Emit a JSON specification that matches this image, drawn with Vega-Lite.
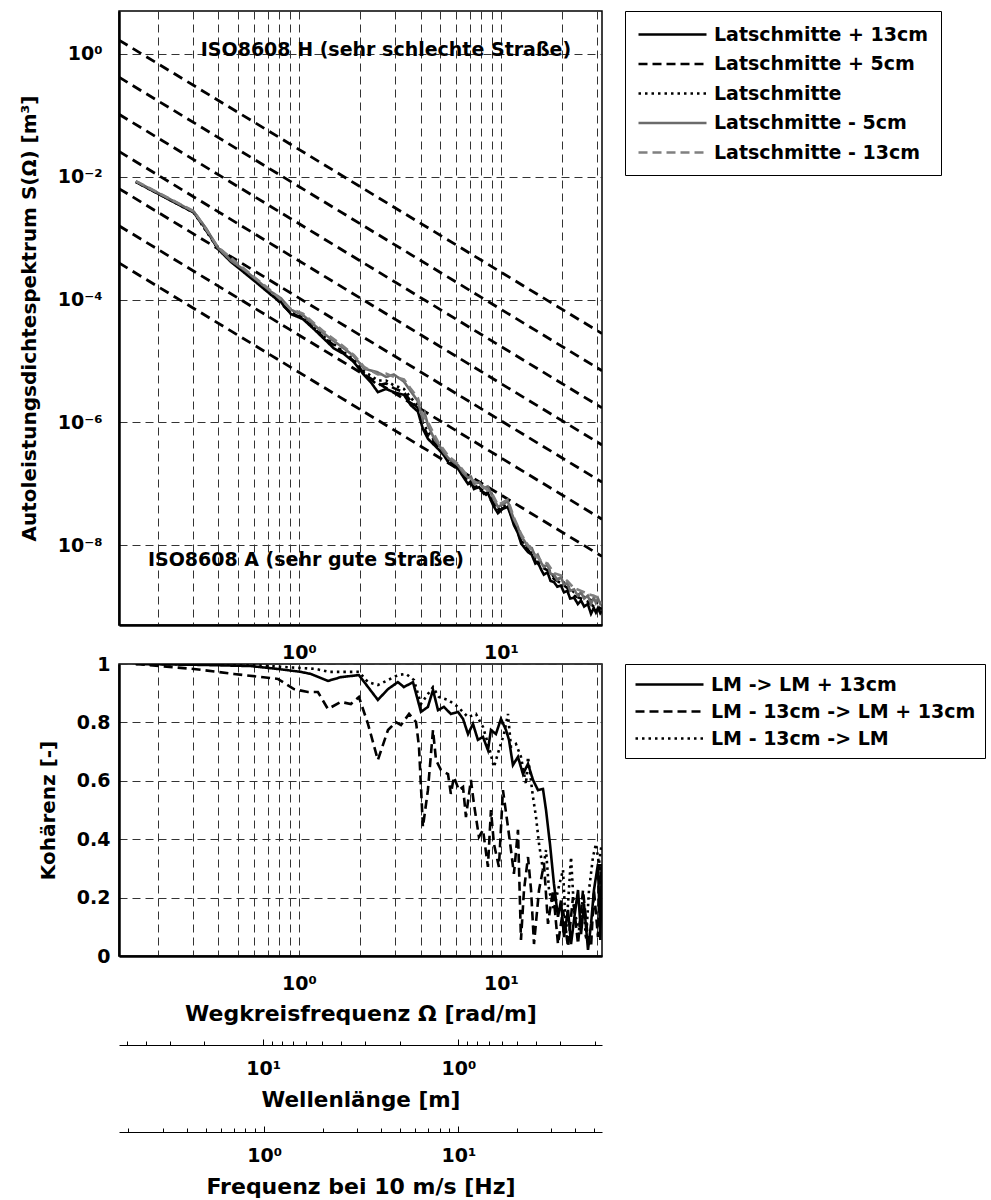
{
  "$schema": "https://vega.github.io/schema/vega-lite/v6.json",
  "background": "white",
  "padding": {"left": 18, "top": 9, "right": 5, "bottom": 5},
  "bounds": "flush",
  "spacing": 39,
  "config": {
    "font": "DejaVu Sans",
    "view": {"stroke": "black", "strokeWidth": 1.5},
    "axis": {
      "labelFont": "DejaVu Sans", "labelFontSize": 19, "labelFontWeight": "bold", "labelColor": "black",
      "titleFont": "DejaVu Sans", "titleFontSize": 20, "titleFontWeight": "bold", "titleColor": "black",
      "domainColor": "black", "domainWidth": 2.5, "ticks": false,
      "gridColor": "#333333", "gridDash": [8, 5], "gridWidth": 1, "gridOpacity": 1,
      "labelOverlap": false, "labelFlush": false, "labelBound": false
    }
  },
  "resolve": {
    "scale": {"color": "independent", "strokeDash": "independent"},
    "legend": {"color": "independent", "strokeDash": "independent"}
  },
  "vconcat": [
    {
      "width": 483,
      "height": 614,
      "layer": [
        {
          "data": {"values": [
            {"cls": "A/B", "omega": 0.1288, "S": 3.94e-4}, {"cls": "A/B", "omega": 31.62, "S": 6.55e-9},
            {"cls": "B/C", "omega": 0.1288, "S": 1.59e-3}, {"cls": "B/C", "omega": 31.62, "S": 2.64e-8},
            {"cls": "C/D", "omega": 0.1288, "S": 6.40e-3}, {"cls": "C/D", "omega": 31.62, "S": 1.06e-7},
            {"cls": "D/E", "omega": 0.1288, "S": 2.58e-2}, {"cls": "D/E", "omega": 31.62, "S": 4.28e-7},
            {"cls": "E/F", "omega": 0.1288, "S": 0.104}, {"cls": "E/F", "omega": 31.62, "S": 1.72e-6},
            {"cls": "F/G", "omega": 0.1288, "S": 0.418}, {"cls": "F/G", "omega": 31.62, "S": 6.93e-6},
            {"cls": "G/H", "omega": 0.1288, "S": 1.68}, {"cls": "G/H", "omega": 31.62, "S": 2.79e-5}
          ]},
          "mark": {"type": "line", "color": "black", "strokeWidth": 2.8, "strokeDash": [10, 6], "clip": true},
          "encoding": {
            "x": {"field": "omega", "type": "quantitative",
                  "scale": {"type": "log", "domain": [0.1288, 31.62], "nice": false},
                  "axis": {"title": null, "grid": true, "labelPadding": 18,
                           "values": [0.2, 0.3, 0.4, 0.5, 0.6, 0.7, 0.8, 0.9, 1, 2, 3, 4, 5, 6, 7, 8, 9, 10, 20, 30],
                           "labelExpr": "datum.value == 1 ? '10⁰' : (datum.value == 10 ? '10¹' : '')"}},
            "y": {"field": "S", "type": "quantitative",
                  "scale": {"type": "log", "domain": [5.0e-10, 5.0], "nice": false},
                  "axis": {"title": "Autoleistungsdichtespektrum S(Ω) [m³]", "grid": true, "labelPadding": 17, "titlePadding": 18,
                           "values": [1e-8, 1e-6, 1e-4, 1e-2, 1],
                           "labelExpr": "datum.value > 0.5 ? '10⁰' : (datum.value > 5e-3 ? '10⁻²' : (datum.value > 5e-5 ? '10⁻⁴' : (datum.value > 5e-7 ? '10⁻⁶' : '10⁻⁸')))"}},
            "detail": {"field": "cls", "type": "nominal"}
          }
        },
        {
          "data": {"values": [
            {"series": "Latschmitte + 13cm", "omega": 0.156, "S": 8.2e-3},
            {"series": "Latschmitte + 13cm", "omega": 0.302, "S": 2.6e-3},
            {"series": "Latschmitte + 13cm", "omega": 0.347, "S": 1.4e-3},
            {"series": "Latschmitte + 13cm", "omega": 0.397, "S": 6.7e-4},
            {"series": "Latschmitte + 13cm", "omega": 0.461, "S": 4.1e-4},
            {"series": "Latschmitte + 13cm", "omega": 0.547, "S": 2.6e-4},
            {"series": "Latschmitte + 13cm", "omega": 0.627, "S": 1.8e-4},
            {"series": "Latschmitte + 13cm", "omega": 0.726, "S": 1.2e-4},
            {"series": "Latschmitte + 13cm", "omega": 0.815, "S": 9.1e-5},
            {"series": "Latschmitte + 13cm", "omega": 0.913, "S": 5.8e-5},
            {"series": "Latschmitte + 13cm", "omega": 1.047, "S": 4.8e-5},
            {"series": "Latschmitte + 13cm", "omega": 1.186, "S": 3.3e-5},
            {"series": "Latschmitte + 13cm", "omega": 1.33, "S": 2.3e-5},
            {"series": "Latschmitte + 13cm", "omega": 1.49, "S": 1.6e-5},
            {"series": "Latschmitte + 13cm", "omega": 1.67, "S": 1.3e-5},
            {"series": "Latschmitte + 13cm", "omega": 1.87, "S": 9.6e-6},
            {"series": "Latschmitte + 13cm", "omega": 2.10, "S": 5.9e-6},
            {"series": "Latschmitte + 13cm", "omega": 2.27, "S": 4.5e-6},
            {"series": "Latschmitte + 13cm", "omega": 2.46, "S": 3.1e-6},
            {"series": "Latschmitte + 13cm", "omega": 2.70, "S": 3.5e-6},
            {"series": "Latschmitte + 13cm", "omega": 2.95, "S": 3.1e-6},
            {"series": "Latschmitte + 13cm", "omega": 3.31, "S": 2.8e-6},
            {"series": "Latschmitte + 13cm", "omega": 3.58, "S": 1.9e-6},
            {"series": "Latschmitte + 13cm", "omega": 3.88, "S": 1.5e-6},
            {"series": "Latschmitte + 13cm", "omega": 4.11, "S": 7.8e-7},
            {"series": "Latschmitte + 13cm", "omega": 4.35, "S": 5.4e-7},
            {"series": "Latschmitte + 13cm", "omega": 4.66, "S": 4.3e-7},
            {"series": "Latschmitte + 13cm", "omega": 4.88, "S": 3.7e-7},
            {"series": "Latschmitte + 13cm", "omega": 5.22, "S": 2.9e-7},
            {"series": "Latschmitte + 13cm", "omega": 5.5, "S": 2.2e-7},
            {"series": "Latschmitte + 13cm", "omega": 5.78, "S": 2.0e-7},
            {"series": "Latschmitte + 13cm", "omega": 6.13, "S": 1.75e-7},
            {"series": "Latschmitte + 13cm", "omega": 6.5, "S": 1.3e-7},
            {"series": "Latschmitte + 13cm", "omega": 6.87, "S": 9.9e-8},
            {"series": "Latschmitte + 13cm", "omega": 7.1, "S": 1.1e-7},
            {"series": "Latschmitte + 13cm", "omega": 7.35, "S": 8.2e-8},
            {"series": "Latschmitte + 13cm", "omega": 7.8, "S": 8.8e-8},
            {"series": "Latschmitte + 13cm", "omega": 8.24, "S": 6.8e-8},
            {"series": "Latschmitte + 13cm", "omega": 8.6, "S": 7.2e-8},
            {"series": "Latschmitte + 13cm", "omega": 9.13, "S": 4.5e-8},
            {"series": "Latschmitte + 13cm", "omega": 9.66, "S": 3.3e-8},
            {"series": "Latschmitte + 13cm", "omega": 10.2, "S": 3.9e-8},
            {"series": "Latschmitte + 13cm", "omega": 10.8, "S": 4.2e-8},
            {"series": "Latschmitte + 13cm", "omega": 11.2, "S": 3.0e-8},
            {"series": "Latschmitte + 13cm", "omega": 11.6, "S": 2.1e-8},
            {"series": "Latschmitte + 13cm", "omega": 12.1, "S": 1.6e-8},
            {"series": "Latschmitte + 13cm", "omega": 12.6, "S": 1.05e-8},
            {"series": "Latschmitte + 13cm", "omega": 13.1, "S": 9.0e-9},
            {"series": "Latschmitte + 13cm", "omega": 13.6, "S": 7.7e-9},
            {"series": "Latschmitte + 13cm", "omega": 14.2, "S": 7.0e-9},
            {"series": "Latschmitte + 13cm", "omega": 14.8, "S": 5.0e-9},
            {"series": "Latschmitte + 13cm", "omega": 15.2, "S": 5.3e-9},
            {"series": "Latschmitte + 13cm", "omega": 15.8, "S": 4.0e-9},
            {"series": "Latschmitte + 13cm", "omega": 16.3, "S": 3.3e-9},
            {"series": "Latschmitte + 13cm", "omega": 17.0, "S": 3.6e-9},
            {"series": "Latschmitte + 13cm", "omega": 17.6, "S": 2.6e-9},
            {"series": "Latschmitte + 13cm", "omega": 18.3, "S": 2.5e-9},
            {"series": "Latschmitte + 13cm", "omega": 19.0, "S": 2.1e-9},
            {"series": "Latschmitte + 13cm", "omega": 19.8, "S": 2.2e-9},
            {"series": "Latschmitte + 13cm", "omega": 20.5, "S": 1.7e-9},
            {"series": "Latschmitte + 13cm", "omega": 21.3, "S": 1.8e-9},
            {"series": "Latschmitte + 13cm", "omega": 22.0, "S": 1.35e-9},
            {"series": "Latschmitte + 13cm", "omega": 23.0, "S": 1.4e-9},
            {"series": "Latschmitte + 13cm", "omega": 24.0, "S": 1.1e-9},
            {"series": "Latschmitte + 13cm", "omega": 24.9, "S": 1.25e-9},
            {"series": "Latschmitte + 13cm", "omega": 25.8, "S": 1.0e-9},
            {"series": "Latschmitte + 13cm", "omega": 26.9, "S": 1.1e-9},
            {"series": "Latschmitte + 13cm", "omega": 27.9, "S": 7.6e-10},
            {"series": "Latschmitte + 13cm", "omega": 28.8, "S": 9.5e-10},
            {"series": "Latschmitte + 13cm", "omega": 29.5, "S": 8.0e-10},
            {"series": "Latschmitte + 13cm", "omega": 30.2, "S": 9.5e-10},
            {"series": "Latschmitte + 13cm", "omega": 31.0, "S": 7.8e-10},
            {"series": "Latschmitte + 13cm", "omega": 31.6, "S": 8.5e-10},

            {"series": "Latschmitte + 5cm", "omega": 0.156, "S": 8.3e-3},
            {"series": "Latschmitte + 5cm", "omega": 0.302, "S": 2.65e-3},
            {"series": "Latschmitte + 5cm", "omega": 0.397, "S": 6.9e-4},
            {"series": "Latschmitte + 5cm", "omega": 0.547, "S": 2.7e-4},
            {"series": "Latschmitte + 5cm", "omega": 0.726, "S": 1.25e-4},
            {"series": "Latschmitte + 5cm", "omega": 0.913, "S": 6.0e-5},
            {"series": "Latschmitte + 5cm", "omega": 1.047, "S": 5.0e-5},
            {"series": "Latschmitte + 5cm", "omega": 1.33, "S": 2.4e-5},
            {"series": "Latschmitte + 5cm", "omega": 1.67, "S": 1.35e-5},
            {"series": "Latschmitte + 5cm", "omega": 1.87, "S": 1.0e-5},
            {"series": "Latschmitte + 5cm", "omega": 2.10, "S": 6.3e-6},
            {"series": "Latschmitte + 5cm", "omega": 2.46, "S": 4.0e-6},
            {"series": "Latschmitte + 5cm", "omega": 2.70, "S": 4.3e-6},
            {"series": "Latschmitte + 5cm", "omega": 2.95, "S": 3.6e-6},
            {"series": "Latschmitte + 5cm", "omega": 3.31, "S": 3.1e-6},
            {"series": "Latschmitte + 5cm", "omega": 3.58, "S": 2.2e-6},
            {"series": "Latschmitte + 5cm", "omega": 3.88, "S": 1.7e-6},
            {"series": "Latschmitte + 5cm", "omega": 4.11, "S": 9.0e-7},
            {"series": "Latschmitte + 5cm", "omega": 4.35, "S": 6.0e-7},
            {"series": "Latschmitte + 5cm", "omega": 4.88, "S": 4.0e-7},
            {"series": "Latschmitte + 5cm", "omega": 5.5, "S": 2.4e-7},
            {"series": "Latschmitte + 5cm", "omega": 6.13, "S": 1.85e-7},
            {"series": "Latschmitte + 5cm", "omega": 6.87, "S": 1.05e-7},
            {"series": "Latschmitte + 5cm", "omega": 7.35, "S": 9.0e-8},
            {"series": "Latschmitte + 5cm", "omega": 8.24, "S": 7.2e-8},
            {"series": "Latschmitte + 5cm", "omega": 9.13, "S": 5.0e-8},
            {"series": "Latschmitte + 5cm", "omega": 9.66, "S": 3.6e-8},
            {"series": "Latschmitte + 5cm", "omega": 10.8, "S": 4.4e-8},
            {"series": "Latschmitte + 5cm", "omega": 11.6, "S": 2.3e-8},
            {"series": "Latschmitte + 5cm", "omega": 12.6, "S": 1.15e-8},
            {"series": "Latschmitte + 5cm", "omega": 13.6, "S": 8.5e-9},
            {"series": "Latschmitte + 5cm", "omega": 14.8, "S": 5.5e-9},
            {"series": "Latschmitte + 5cm", "omega": 15.8, "S": 4.4e-9},
            {"series": "Latschmitte + 5cm", "omega": 17.0, "S": 3.9e-9},
            {"series": "Latschmitte + 5cm", "omega": 18.3, "S": 2.8e-9},
            {"series": "Latschmitte + 5cm", "omega": 19.8, "S": 2.4e-9},
            {"series": "Latschmitte + 5cm", "omega": 21.3, "S": 2.0e-9},
            {"series": "Latschmitte + 5cm", "omega": 23.0, "S": 1.5e-9},
            {"series": "Latschmitte + 5cm", "omega": 24.9, "S": 1.35e-9},
            {"series": "Latschmitte + 5cm", "omega": 26.9, "S": 1.2e-9},
            {"series": "Latschmitte + 5cm", "omega": 28.8, "S": 1.0e-9},
            {"series": "Latschmitte + 5cm", "omega": 30.2, "S": 1.0e-9},
            {"series": "Latschmitte + 5cm", "omega": 31.6, "S": 9.0e-10},

            {"series": "Latschmitte", "omega": 0.156, "S": 8.3e-3},
            {"series": "Latschmitte", "omega": 0.302, "S": 2.6e-3},
            {"series": "Latschmitte", "omega": 0.397, "S": 6.8e-4},
            {"series": "Latschmitte", "omega": 0.547, "S": 2.7e-4},
            {"series": "Latschmitte", "omega": 0.726, "S": 1.28e-4},
            {"series": "Latschmitte", "omega": 0.913, "S": 6.2e-5},
            {"series": "Latschmitte", "omega": 1.047, "S": 5.1e-5},
            {"series": "Latschmitte", "omega": 1.33, "S": 2.5e-5},
            {"series": "Latschmitte", "omega": 1.67, "S": 1.4e-5},
            {"series": "Latschmitte", "omega": 1.87, "S": 1.05e-5},
            {"series": "Latschmitte", "omega": 2.10, "S": 6.8e-6},
            {"series": "Latschmitte", "omega": 2.46, "S": 4.8e-6},
            {"series": "Latschmitte", "omega": 2.70, "S": 4.8e-6},
            {"series": "Latschmitte", "omega": 2.95, "S": 4.0e-6},
            {"series": "Latschmitte", "omega": 3.31, "S": 3.5e-6},
            {"series": "Latschmitte", "omega": 3.58, "S": 2.5e-6},
            {"series": "Latschmitte", "omega": 3.88, "S": 1.9e-6},
            {"series": "Latschmitte", "omega": 4.11, "S": 1.0e-6},
            {"series": "Latschmitte", "omega": 4.35, "S": 7.0e-7},
            {"series": "Latschmitte", "omega": 4.88, "S": 4.2e-7},
            {"series": "Latschmitte", "omega": 5.5, "S": 2.5e-7},
            {"series": "Latschmitte", "omega": 6.13, "S": 1.9e-7},
            {"series": "Latschmitte", "omega": 6.87, "S": 1.1e-7},
            {"series": "Latschmitte", "omega": 7.35, "S": 9.5e-8},
            {"series": "Latschmitte", "omega": 8.24, "S": 7.6e-8},
            {"series": "Latschmitte", "omega": 9.13, "S": 5.4e-8},
            {"series": "Latschmitte", "omega": 9.66, "S": 3.9e-8},
            {"series": "Latschmitte", "omega": 10.8, "S": 4.7e-8},
            {"series": "Latschmitte", "omega": 11.6, "S": 2.4e-8},
            {"series": "Latschmitte", "omega": 12.6, "S": 1.2e-8},
            {"series": "Latschmitte", "omega": 13.6, "S": 9.0e-9},
            {"series": "Latschmitte", "omega": 14.8, "S": 6.0e-9},
            {"series": "Latschmitte", "omega": 15.8, "S": 4.8e-9},
            {"series": "Latschmitte", "omega": 17.0, "S": 4.3e-9},
            {"series": "Latschmitte", "omega": 18.3, "S": 3.0e-9},
            {"series": "Latschmitte", "omega": 19.8, "S": 2.7e-9},
            {"series": "Latschmitte", "omega": 21.3, "S": 2.2e-9},
            {"series": "Latschmitte", "omega": 23.0, "S": 1.7e-9},
            {"series": "Latschmitte", "omega": 24.9, "S": 1.5e-9},
            {"series": "Latschmitte", "omega": 26.9, "S": 1.35e-9},
            {"series": "Latschmitte", "omega": 28.8, "S": 1.2e-9},
            {"series": "Latschmitte", "omega": 30.2, "S": 1.15e-9},
            {"series": "Latschmitte", "omega": 31.6, "S": 1.1e-9},

            {"series": "Latschmitte - 5cm", "omega": 0.156, "S": 8.4e-3},
            {"series": "Latschmitte - 5cm", "omega": 0.302, "S": 2.7e-3},
            {"series": "Latschmitte - 5cm", "omega": 0.347, "S": 1.45e-3},
            {"series": "Latschmitte - 5cm", "omega": 0.397, "S": 7.0e-4},
            {"series": "Latschmitte - 5cm", "omega": 0.461, "S": 4.3e-4},
            {"series": "Latschmitte - 5cm", "omega": 0.547, "S": 2.9e-4},
            {"series": "Latschmitte - 5cm", "omega": 0.627, "S": 2.0e-4},
            {"series": "Latschmitte - 5cm", "omega": 0.726, "S": 1.35e-4},
            {"series": "Latschmitte - 5cm", "omega": 0.815, "S": 1.05e-4},
            {"series": "Latschmitte - 5cm", "omega": 0.913, "S": 6.8e-5},
            {"series": "Latschmitte - 5cm", "omega": 1.047, "S": 5.6e-5},
            {"series": "Latschmitte - 5cm", "omega": 1.186, "S": 3.9e-5},
            {"series": "Latschmitte - 5cm", "omega": 1.33, "S": 2.8e-5},
            {"series": "Latschmitte - 5cm", "omega": 1.49, "S": 2.1e-5},
            {"series": "Latschmitte - 5cm", "omega": 1.67, "S": 1.6e-5},
            {"series": "Latschmitte - 5cm", "omega": 1.87, "S": 1.2e-5},
            {"series": "Latschmitte - 5cm", "omega": 2.10, "S": 7.5e-6},
            {"series": "Latschmitte - 5cm", "omega": 2.27, "S": 7.0e-6},
            {"series": "Latschmitte - 5cm", "omega": 2.46, "S": 6.5e-6},
            {"series": "Latschmitte - 5cm", "omega": 2.70, "S": 5.5e-6},
            {"series": "Latschmitte - 5cm", "omega": 2.95, "S": 6.0e-6},
            {"series": "Latschmitte - 5cm", "omega": 3.2, "S": 5.0e-6},
            {"series": "Latschmitte - 5cm", "omega": 3.31, "S": 4.6e-6},
            {"series": "Latschmitte - 5cm", "omega": 3.58, "S": 3.2e-6},
            {"series": "Latschmitte - 5cm", "omega": 3.88, "S": 2.2e-6},
            {"series": "Latschmitte - 5cm", "omega": 4.11, "S": 1.1e-6},
            {"series": "Latschmitte - 5cm", "omega": 4.2, "S": 1.4e-6},
            {"series": "Latschmitte - 5cm", "omega": 4.35, "S": 9.0e-7},
            {"series": "Latschmitte - 5cm", "omega": 4.66, "S": 5.5e-7},
            {"series": "Latschmitte - 5cm", "omega": 4.88, "S": 4.5e-7},
            {"series": "Latschmitte - 5cm", "omega": 5.22, "S": 3.2e-7},
            {"series": "Latschmitte - 5cm", "omega": 5.5, "S": 2.6e-7},
            {"series": "Latschmitte - 5cm", "omega": 5.78, "S": 2.3e-7},
            {"series": "Latschmitte - 5cm", "omega": 6.13, "S": 2.0e-7},
            {"series": "Latschmitte - 5cm", "omega": 6.5, "S": 1.5e-7},
            {"series": "Latschmitte - 5cm", "omega": 6.87, "S": 1.25e-7},
            {"series": "Latschmitte - 5cm", "omega": 7.1, "S": 1.3e-7},
            {"series": "Latschmitte - 5cm", "omega": 7.35, "S": 1.0e-7},
            {"series": "Latschmitte - 5cm", "omega": 7.8, "S": 1.05e-7},
            {"series": "Latschmitte - 5cm", "omega": 8.24, "S": 8.5e-8},
            {"series": "Latschmitte - 5cm", "omega": 8.6, "S": 9.0e-8},
            {"series": "Latschmitte - 5cm", "omega": 9.13, "S": 6.0e-8},
            {"series": "Latschmitte - 5cm", "omega": 9.66, "S": 4.2e-8},
            {"series": "Latschmitte - 5cm", "omega": 10.2, "S": 4.6e-8},
            {"series": "Latschmitte - 5cm", "omega": 10.8, "S": 5.2e-8},
            {"series": "Latschmitte - 5cm", "omega": 11.2, "S": 3.6e-8},
            {"series": "Latschmitte - 5cm", "omega": 11.6, "S": 2.6e-8},
            {"series": "Latschmitte - 5cm", "omega": 12.1, "S": 2.0e-8},
            {"series": "Latschmitte - 5cm", "omega": 12.6, "S": 1.4e-8},
            {"series": "Latschmitte - 5cm", "omega": 13.1, "S": 1.15e-8},
            {"series": "Latschmitte - 5cm", "omega": 13.6, "S": 9.5e-9},
            {"series": "Latschmitte - 5cm", "omega": 14.2, "S": 9.0e-9},
            {"series": "Latschmitte - 5cm", "omega": 14.8, "S": 6.5e-9},
            {"series": "Latschmitte - 5cm", "omega": 15.2, "S": 7.0e-9},
            {"series": "Latschmitte - 5cm", "omega": 15.8, "S": 5.2e-9},
            {"series": "Latschmitte - 5cm", "omega": 16.3, "S": 4.4e-9},
            {"series": "Latschmitte - 5cm", "omega": 17.0, "S": 4.8e-9},
            {"series": "Latschmitte - 5cm", "omega": 17.6, "S": 3.4e-9},
            {"series": "Latschmitte - 5cm", "omega": 18.3, "S": 3.3e-9},
            {"series": "Latschmitte - 5cm", "omega": 19.0, "S": 2.7e-9},
            {"series": "Latschmitte - 5cm", "omega": 19.8, "S": 3.0e-9},
            {"series": "Latschmitte - 5cm", "omega": 20.5, "S": 2.3e-9},
            {"series": "Latschmitte - 5cm", "omega": 21.3, "S": 2.4e-9},
            {"series": "Latschmitte - 5cm", "omega": 22.0, "S": 1.8e-9},
            {"series": "Latschmitte - 5cm", "omega": 23.0, "S": 1.9e-9},
            {"series": "Latschmitte - 5cm", "omega": 24.0, "S": 1.5e-9},
            {"series": "Latschmitte - 5cm", "omega": 24.9, "S": 1.7e-9},
            {"series": "Latschmitte - 5cm", "omega": 25.8, "S": 1.35e-9},
            {"series": "Latschmitte - 5cm", "omega": 26.9, "S": 1.5e-9},
            {"series": "Latschmitte - 5cm", "omega": 27.9, "S": 1.1e-9},
            {"series": "Latschmitte - 5cm", "omega": 28.8, "S": 1.4e-9},
            {"series": "Latschmitte - 5cm", "omega": 29.5, "S": 1.15e-9},
            {"series": "Latschmitte - 5cm", "omega": 30.2, "S": 1.35e-9},
            {"series": "Latschmitte - 5cm", "omega": 31.0, "S": 1.1e-9},
            {"series": "Latschmitte - 5cm", "omega": 31.6, "S": 1.2e-9},

            {"series": "Latschmitte - 13cm", "omega": 0.156, "S": 8.5e-3},
            {"series": "Latschmitte - 13cm", "omega": 0.302, "S": 2.75e-3},
            {"series": "Latschmitte - 13cm", "omega": 0.397, "S": 7.2e-4},
            {"series": "Latschmitte - 13cm", "omega": 0.547, "S": 3.0e-4},
            {"series": "Latschmitte - 13cm", "omega": 0.726, "S": 1.4e-4},
            {"series": "Latschmitte - 13cm", "omega": 0.913, "S": 7.0e-5},
            {"series": "Latschmitte - 13cm", "omega": 1.047, "S": 5.9e-5},
            {"series": "Latschmitte - 13cm", "omega": 1.33, "S": 3.0e-5},
            {"series": "Latschmitte - 13cm", "omega": 1.67, "S": 1.7e-5},
            {"series": "Latschmitte - 13cm", "omega": 1.87, "S": 1.25e-5},
            {"series": "Latschmitte - 13cm", "omega": 2.10, "S": 8.0e-6},
            {"series": "Latschmitte - 13cm", "omega": 2.46, "S": 6.0e-6},
            {"series": "Latschmitte - 13cm", "omega": 2.70, "S": 6.2e-6},
            {"series": "Latschmitte - 13cm", "omega": 2.95, "S": 5.5e-6},
            {"series": "Latschmitte - 13cm", "omega": 3.31, "S": 5.0e-6},
            {"series": "Latschmitte - 13cm", "omega": 3.58, "S": 3.5e-6},
            {"series": "Latschmitte - 13cm", "omega": 3.88, "S": 2.5e-6},
            {"series": "Latschmitte - 13cm", "omega": 4.11, "S": 1.3e-6},
            {"series": "Latschmitte - 13cm", "omega": 4.35, "S": 1.0e-6},
            {"series": "Latschmitte - 13cm", "omega": 4.88, "S": 4.8e-7},
            {"series": "Latschmitte - 13cm", "omega": 5.5, "S": 2.8e-7},
            {"series": "Latschmitte - 13cm", "omega": 6.13, "S": 2.1e-7},
            {"series": "Latschmitte - 13cm", "omega": 6.87, "S": 1.3e-7},
            {"series": "Latschmitte - 13cm", "omega": 7.35, "S": 1.1e-7},
            {"series": "Latschmitte - 13cm", "omega": 8.24, "S": 8.8e-8},
            {"series": "Latschmitte - 13cm", "omega": 9.13, "S": 6.5e-8},
            {"series": "Latschmitte - 13cm", "omega": 9.66, "S": 4.5e-8},
            {"series": "Latschmitte - 13cm", "omega": 10.8, "S": 5.5e-8},
            {"series": "Latschmitte - 13cm", "omega": 11.6, "S": 2.8e-8},
            {"series": "Latschmitte - 13cm", "omega": 12.6, "S": 1.5e-8},
            {"series": "Latschmitte - 13cm", "omega": 13.6, "S": 1.0e-8},
            {"series": "Latschmitte - 13cm", "omega": 14.8, "S": 7.0e-9},
            {"series": "Latschmitte - 13cm", "omega": 15.8, "S": 5.5e-9},
            {"series": "Latschmitte - 13cm", "omega": 17.0, "S": 5.0e-9},
            {"series": "Latschmitte - 13cm", "omega": 18.3, "S": 3.5e-9},
            {"series": "Latschmitte - 13cm", "omega": 19.8, "S": 3.2e-9},
            {"series": "Latschmitte - 13cm", "omega": 21.3, "S": 2.6e-9},
            {"series": "Latschmitte - 13cm", "omega": 23.0, "S": 2.0e-9},
            {"series": "Latschmitte - 13cm", "omega": 24.9, "S": 1.8e-9},
            {"series": "Latschmitte - 13cm", "omega": 26.9, "S": 1.6e-9},
            {"series": "Latschmitte - 13cm", "omega": 28.8, "S": 1.5e-9},
            {"series": "Latschmitte - 13cm", "omega": 30.2, "S": 1.4e-9},
            {"series": "Latschmitte - 13cm", "omega": 31.6, "S": 1.3e-9}
          ]},
          "mark": {"type": "line", "strokeWidth": 2.6, "clip": true},
          "encoding": {
            "x": {"field": "omega", "type": "quantitative",
                  "scale": {"type": "log", "domain": [0.1288, 31.62], "nice": false}},
            "y": {"field": "S", "type": "quantitative",
                  "scale": {"type": "log", "domain": [5.0e-10, 5.0], "nice": false}},
            "color": {"field": "series", "type": "nominal",
                      "scale": {"domain": ["Latschmitte + 13cm", "Latschmitte + 5cm", "Latschmitte", "Latschmitte - 5cm", "Latschmitte - 13cm"],
                                "range": ["#000000", "#000000", "#000000", "#6b6b6b", "#808080"]},
                      "legend": {"title": null, "orient": "right", "offset": 23, "padding": 12, "rowPadding": 7.5,
                                 "strokeColor": "black", "fillColor": "white", "cornerRadius": 0,
                                 "symbolType": "M-1,0H5.8", "symbolSize": 400, "symbolStrokeWidth": 2.5, "symbolFillColor": "transparent",
                                 "labelOffset": 54, "labelFont": "DejaVu Sans", "labelFontSize": 19, "labelFontWeight": "bold",
                                 "labelColor": "black", "labelLimit": 400}},
            "strokeDash": {"field": "series", "type": "nominal",
                           "scale": {"domain": ["Latschmitte + 13cm", "Latschmitte + 5cm", "Latschmitte", "Latschmitte - 5cm", "Latschmitte - 13cm"],
                                     "range": [[1, 0], [9, 5], [2.5, 4], [1, 0], [9, 5]]},
                           "legend": {"title": null, "orient": "right", "offset": 23, "padding": 12, "rowPadding": 7.5,
                                      "strokeColor": "black", "fillColor": "white", "cornerRadius": 0,
                                      "symbolType": "M-1,0H5.8", "symbolSize": 400, "symbolStrokeWidth": 2.5, "symbolFillColor": "transparent",
                                      "labelOffset": 54, "labelFont": "DejaVu Sans", "labelFontSize": 19, "labelFontWeight": "bold",
                                      "labelColor": "black", "labelLimit": 400}}
          }
        },
        {
          "data": {"values": [{}]},
          "mark": {"type": "text", "text": "ISO8608 H (sehr schlechte Straße)", "align": "left", "baseline": "middle",
                   "font": "DejaVu Sans", "fontSize": 19, "fontWeight": "bold", "color": "black"},
          "encoding": {
            "x": {"datum": 0.327, "type": "quantitative", "scale": {"type": "log", "domain": [0.1288, 31.62], "nice": false}},
            "y": {"datum": 1.16, "type": "quantitative", "scale": {"type": "log", "domain": [5.0e-10, 5.0], "nice": false}}
          }
        },
        {
          "data": {"values": [{}]},
          "mark": {"type": "text", "text": "ISO8608 A (sehr gute Straße)", "align": "left", "baseline": "middle",
                   "font": "DejaVu Sans", "fontSize": 19, "fontWeight": "bold", "color": "black"},
          "encoding": {
            "x": {"datum": 0.179, "type": "quantitative", "scale": {"type": "log", "domain": [0.1288, 31.62], "nice": false}},
            "y": {"datum": 5.7e-9, "type": "quantitative", "scale": {"type": "log", "domain": [5.0e-10, 5.0], "nice": false}}
          }
        }
      ]
    },
    {
      "width": 483,
      "height": 292,
      "data": {"values": [
        {"pair": "LM -> LM + 13cm", "omega": 0.156, "coh": 1.0},
        {"pair": "LM -> LM + 13cm", "omega": 0.327, "coh": 0.997},
        {"pair": "LM -> LM + 13cm", "omega": 0.578, "coh": 0.993},
        {"pair": "LM -> LM + 13cm", "omega": 0.787, "coh": 0.983},
        {"pair": "LM -> LM + 13cm", "omega": 1.023, "coh": 0.973},
        {"pair": "LM -> LM + 13cm", "omega": 1.146, "coh": 0.966},
        {"pair": "LM -> LM + 13cm", "omega": 1.392, "coh": 0.942},
        {"pair": "LM -> LM + 13cm", "omega": 1.614, "coh": 0.955},
        {"pair": "LM -> LM + 13cm", "omega": 1.982, "coh": 0.962},
        {"pair": "LM -> LM + 13cm", "omega": 2.46, "coh": 0.877},
        {"pair": "LM -> LM + 13cm", "omega": 2.76, "coh": 0.914},
        {"pair": "LM -> LM + 13cm", "omega": 3.09, "coh": 0.938},
        {"pair": "LM -> LM + 13cm", "omega": 3.31, "coh": 0.921},
        {"pair": "LM -> LM + 13cm", "omega": 3.67, "coh": 0.938},
        {"pair": "LM -> LM + 13cm", "omega": 4.02, "coh": 0.836},
        {"pair": "LM -> LM + 13cm", "omega": 4.35, "coh": 0.853},
        {"pair": "LM -> LM + 13cm", "omega": 4.61, "coh": 0.911},
        {"pair": "LM -> LM + 13cm", "omega": 4.88, "coh": 0.842},
        {"pair": "LM -> LM + 13cm", "omega": 5.22, "coh": 0.853},
        {"pair": "LM -> LM + 13cm", "omega": 5.65, "coh": 0.829},
        {"pair": "LM -> LM + 13cm", "omega": 6.13, "coh": 0.836},
        {"pair": "LM -> LM + 13cm", "omega": 6.49, "coh": 0.812},
        {"pair": "LM -> LM + 13cm", "omega": 6.87, "coh": 0.760},
        {"pair": "LM -> LM + 13cm", "omega": 7.27, "coh": 0.795},
        {"pair": "LM -> LM + 13cm", "omega": 7.69, "coh": 0.740},
        {"pair": "LM -> LM + 13cm", "omega": 8.15, "coh": 0.750},
        {"pair": "LM -> LM + 13cm", "omega": 8.62, "coh": 0.705},
        {"pair": "LM -> LM + 13cm", "omega": 8.92, "coh": 0.774},
        {"pair": "LM -> LM + 13cm", "omega": 9.44, "coh": 0.760},
        {"pair": "LM -> LM + 13cm", "omega": 10.0, "coh": 0.812},
        {"pair": "LM -> LM + 13cm", "omega": 10.59, "coh": 0.774},
        {"pair": "LM -> LM + 13cm", "omega": 10.96, "coh": 0.740},
        {"pair": "LM -> LM + 13cm", "omega": 11.46, "coh": 0.654},
        {"pair": "LM -> LM + 13cm", "omega": 12.14, "coh": 0.682},
        {"pair": "LM -> LM + 13cm", "omega": 12.85, "coh": 0.623},
        {"pair": "LM -> LM + 13cm", "omega": 13.61, "coh": 0.658},
        {"pair": "LM -> LM + 13cm", "omega": 14.40, "coh": 0.603},
        {"pair": "LM -> LM + 13cm", "omega": 15.25, "coh": 0.568},
        {"pair": "LM -> LM + 13cm", "omega": 16.14, "coh": 0.572},
        {"pair": "LM -> LM + 13cm", "omega": 16.71, "coh": 0.50},
        {"pair": "LM -> LM + 13cm", "omega": 17.5, "coh": 0.38},
        {"pair": "LM -> LM + 13cm", "omega": 18.29, "coh": 0.247},
        {"pair": "LM -> LM + 13cm", "omega": 19.15, "coh": 0.134},
        {"pair": "LM -> LM + 13cm", "omega": 19.82, "coh": 0.19},
        {"pair": "LM -> LM + 13cm", "omega": 20.51, "coh": 0.065},
        {"pair": "LM -> LM + 13cm", "omega": 21.47, "coh": 0.158},
        {"pair": "LM -> LM + 13cm", "omega": 22.22, "coh": 0.041},
        {"pair": "LM -> LM + 13cm", "omega": 22.98, "coh": 0.123},
        {"pair": "LM -> LM + 13cm", "omega": 24.06, "coh": 0.226},
        {"pair": "LM -> LM + 13cm", "omega": 24.90, "coh": 0.075},
        {"pair": "LM -> LM + 13cm", "omega": 25.76, "coh": 0.178},
        {"pair": "LM -> LM + 13cm", "omega": 26.96, "coh": 0.021},
        {"pair": "LM -> LM + 13cm", "omega": 27.91, "coh": 0.11},
        {"pair": "LM -> LM + 13cm", "omega": 28.85, "coh": 0.226},
        {"pair": "LM -> LM + 13cm", "omega": 30.20, "coh": 0.315},
        {"pair": "LM -> LM + 13cm", "omega": 31.0, "coh": 0.055},
        {"pair": "LM -> LM + 13cm", "omega": 31.6, "coh": 0.315},

        {"pair": "LM - 13cm -> LM + 13cm", "omega": 0.156, "coh": 1.0},
        {"pair": "LM - 13cm -> LM + 13cm", "omega": 0.302, "coh": 0.983},
        {"pair": "LM - 13cm -> LM + 13cm", "omega": 0.477, "coh": 0.966},
        {"pair": "LM - 13cm -> LM + 13cm", "omega": 0.787, "coh": 0.949},
        {"pair": "LM - 13cm -> LM + 13cm", "omega": 0.945, "coh": 0.914},
        {"pair": "LM - 13cm -> LM + 13cm", "omega": 1.108, "coh": 0.904},
        {"pair": "LM - 13cm -> LM + 13cm", "omega": 1.242, "coh": 0.904},
        {"pair": "LM - 13cm -> LM + 13cm", "omega": 1.392, "coh": 0.846},
        {"pair": "LM - 13cm -> LM + 13cm", "omega": 1.614, "coh": 0.870},
        {"pair": "LM - 13cm -> LM + 13cm", "omega": 1.809, "coh": 0.863},
        {"pair": "LM - 13cm -> LM + 13cm", "omega": 1.982, "coh": 0.887},
        {"pair": "LM - 13cm -> LM + 13cm", "omega": 2.197, "coh": 0.795},
        {"pair": "LM - 13cm -> LM + 13cm", "omega": 2.46, "coh": 0.671},
        {"pair": "LM - 13cm -> LM + 13cm", "omega": 2.76, "coh": 0.774},
        {"pair": "LM - 13cm -> LM + 13cm", "omega": 3.02, "coh": 0.801},
        {"pair": "LM - 13cm -> LM + 13cm", "omega": 3.20, "coh": 0.791},
        {"pair": "LM - 13cm -> LM + 13cm", "omega": 3.51, "coh": 0.829},
        {"pair": "LM - 13cm -> LM + 13cm", "omega": 3.80, "coh": 0.801},
        {"pair": "LM - 13cm -> LM + 13cm", "omega": 3.93, "coh": 0.716},
        {"pair": "LM - 13cm -> LM + 13cm", "omega": 4.11, "coh": 0.442},
        {"pair": "LM - 13cm -> LM + 13cm", "omega": 4.35, "coh": 0.568},
        {"pair": "LM - 13cm -> LM + 13cm", "omega": 4.61, "coh": 0.774},
        {"pair": "LM - 13cm -> LM + 13cm", "omega": 4.77, "coh": 0.671},
        {"pair": "LM - 13cm -> LM + 13cm", "omega": 5.05, "coh": 0.637},
        {"pair": "LM - 13cm -> LM + 13cm", "omega": 5.47, "coh": 0.623},
        {"pair": "LM - 13cm -> LM + 13cm", "omega": 5.65, "coh": 0.555},
        {"pair": "LM - 13cm -> LM + 13cm", "omega": 5.85, "coh": 0.613},
        {"pair": "LM - 13cm -> LM + 13cm", "omega": 6.20, "coh": 0.568},
        {"pair": "LM - 13cm -> LM + 13cm", "omega": 6.49, "coh": 0.579},
        {"pair": "LM - 13cm -> LM + 13cm", "omega": 6.71, "coh": 0.476},
        {"pair": "LM - 13cm -> LM + 13cm", "omega": 7.10, "coh": 0.603},
        {"pair": "LM - 13cm -> LM + 13cm", "omega": 7.35, "coh": 0.521},
        {"pair": "LM - 13cm -> LM + 13cm", "omega": 7.78, "coh": 0.408},
        {"pair": "LM - 13cm -> LM + 13cm", "omega": 8.15, "coh": 0.432},
        {"pair": "LM - 13cm -> LM + 13cm", "omega": 8.62, "coh": 0.305},
        {"pair": "LM - 13cm -> LM + 13cm", "omega": 8.92, "coh": 0.5},
        {"pair": "LM - 13cm -> LM + 13cm", "omega": 9.23, "coh": 0.384},
        {"pair": "LM - 13cm -> LM + 13cm", "omega": 9.77, "coh": 0.305},
        {"pair": "LM - 13cm -> LM + 13cm", "omega": 10.23, "coh": 0.568},
        {"pair": "LM - 13cm -> LM + 13cm", "omega": 10.83, "coh": 0.442},
        {"pair": "LM - 13cm -> LM + 13cm", "omega": 11.21, "coh": 0.363},
        {"pair": "LM - 13cm -> LM + 13cm", "omega": 11.59, "coh": 0.281},
        {"pair": "LM - 13cm -> LM + 13cm", "omega": 12.14, "coh": 0.432},
        {"pair": "LM - 13cm -> LM + 13cm", "omega": 12.56, "coh": 0.055},
        {"pair": "LM - 13cm -> LM + 13cm", "omega": 13.00, "coh": 0.226},
        {"pair": "LM - 13cm -> LM + 13cm", "omega": 13.61, "coh": 0.339},
        {"pair": "LM - 13cm -> LM + 13cm", "omega": 14.09, "coh": 0.226},
        {"pair": "LM - 13cm -> LM + 13cm", "omega": 14.57, "coh": 0.041},
        {"pair": "LM - 13cm -> LM + 13cm", "omega": 15.43, "coh": 0.226},
        {"pair": "LM - 13cm -> LM + 13cm", "omega": 16.33, "coh": 0.315},
        {"pair": "LM - 13cm -> LM + 13cm", "omega": 17.09, "coh": 0.11},
        {"pair": "LM - 13cm -> LM + 13cm", "omega": 18.09, "coh": 0.226},
        {"pair": "LM - 13cm -> LM + 13cm", "omega": 19.15, "coh": 0.041},
        {"pair": "LM - 13cm -> LM + 13cm", "omega": 20.28, "coh": 0.158},
        {"pair": "LM - 13cm -> LM + 13cm", "omega": 21.47, "coh": 0.031},
        {"pair": "LM - 13cm -> LM + 13cm", "omega": 22.72, "coh": 0.202},
        {"pair": "LM - 13cm -> LM + 13cm", "omega": 24.06, "coh": 0.041},
        {"pair": "LM - 13cm -> LM + 13cm", "omega": 25.47, "coh": 0.226},
        {"pair": "LM - 13cm -> LM + 13cm", "omega": 26.96, "coh": 0.055},
        {"pair": "LM - 13cm -> LM + 13cm", "omega": 27.91, "coh": 0.031},
        {"pair": "LM - 13cm -> LM + 13cm", "omega": 28.85, "coh": 0.226},
        {"pair": "LM - 13cm -> LM + 13cm", "omega": 30.20, "coh": 0.065},
        {"pair": "LM - 13cm -> LM + 13cm", "omega": 31.0, "coh": 0.315},
        {"pair": "LM - 13cm -> LM + 13cm", "omega": 31.6, "coh": 0.202},

        {"pair": "LM - 13cm -> LM", "omega": 0.156, "coh": 1.0},
        {"pair": "LM - 13cm -> LM", "omega": 0.578, "coh": 0.997},
        {"pair": "LM - 13cm -> LM", "omega": 1.214, "coh": 0.983},
        {"pair": "LM - 13cm -> LM", "omega": 1.408, "coh": 0.973},
        {"pair": "LM - 13cm -> LM", "omega": 1.982, "coh": 0.973},
        {"pair": "LM - 13cm -> LM", "omega": 2.197, "coh": 0.938},
        {"pair": "LM - 13cm -> LM", "omega": 2.46, "coh": 0.928},
        {"pair": "LM - 13cm -> LM", "omega": 2.76, "coh": 0.945},
        {"pair": "LM - 13cm -> LM", "omega": 3.09, "coh": 0.962},
        {"pair": "LM - 13cm -> LM", "omega": 3.39, "coh": 0.966},
        {"pair": "LM - 13cm -> LM", "omega": 3.71, "coh": 0.945},
        {"pair": "LM - 13cm -> LM", "omega": 4.02, "coh": 0.863},
        {"pair": "LM - 13cm -> LM", "omega": 4.35, "coh": 0.897},
        {"pair": "LM - 13cm -> LM", "omega": 4.61, "coh": 0.921},
        {"pair": "LM - 13cm -> LM", "omega": 4.93, "coh": 0.887},
        {"pair": "LM - 13cm -> LM", "omega": 5.47, "coh": 0.877},
        {"pair": "LM - 13cm -> LM", "omega": 6.13, "coh": 0.853},
        {"pair": "LM - 13cm -> LM", "omega": 6.87, "coh": 0.818},
        {"pair": "LM - 13cm -> LM", "omega": 7.52, "coh": 0.829},
        {"pair": "LM - 13cm -> LM", "omega": 8.15, "coh": 0.784},
        {"pair": "LM - 13cm -> LM", "omega": 8.72, "coh": 0.716},
        {"pair": "LM - 13cm -> LM", "omega": 9.23, "coh": 0.647},
        {"pair": "LM - 13cm -> LM", "omega": 9.77, "coh": 0.705},
        {"pair": "LM - 13cm -> LM", "omega": 10.35, "coh": 0.760},
        {"pair": "LM - 13cm -> LM", "omega": 10.83, "coh": 0.829},
        {"pair": "LM - 13cm -> LM", "omega": 11.21, "coh": 0.716},
        {"pair": "LM - 13cm -> LM", "omega": 11.86, "coh": 0.726},
        {"pair": "LM - 13cm -> LM", "omega": 12.56, "coh": 0.682},
        {"pair": "LM - 13cm -> LM", "omega": 13.30, "coh": 0.589},
        {"pair": "LM - 13cm -> LM", "omega": 13.61, "coh": 0.682},
        {"pair": "LM - 13cm -> LM", "omega": 14.40, "coh": 0.545},
        {"pair": "LM - 13cm -> LM", "omega": 14.91, "coh": 0.476},
        {"pair": "LM - 13cm -> LM", "omega": 15.43, "coh": 0.384},
        {"pair": "LM - 13cm -> LM", "omega": 16.14, "coh": 0.295},
        {"pair": "LM - 13cm -> LM", "omega": 16.71, "coh": 0.363},
        {"pair": "LM - 13cm -> LM", "omega": 17.29, "coh": 0.226},
        {"pair": "LM - 13cm -> LM", "omega": 18.29, "coh": 0.158},
        {"pair": "LM - 13cm -> LM", "omega": 19.15, "coh": 0.226},
        {"pair": "LM - 13cm -> LM", "omega": 20.28, "coh": 0.295},
        {"pair": "LM - 13cm -> LM", "omega": 20.99, "coh": 0.075},
        {"pair": "LM - 13cm -> LM", "omega": 22.22, "coh": 0.339},
        {"pair": "LM - 13cm -> LM", "omega": 22.98, "coh": 0.158},
        {"pair": "LM - 13cm -> LM", "omega": 24.33, "coh": 0.089},
        {"pair": "LM - 13cm -> LM", "omega": 25.47, "coh": 0.202},
        {"pair": "LM - 13cm -> LM", "omega": 26.36, "coh": 0.055},
        {"pair": "LM - 13cm -> LM", "omega": 27.27, "coh": 0.226},
        {"pair": "LM - 13cm -> LM", "omega": 28.53, "coh": 0.339},
        {"pair": "LM - 13cm -> LM", "omega": 29.52, "coh": 0.384},
        {"pair": "LM - 13cm -> LM", "omega": 30.55, "coh": 0.315},
        {"pair": "LM - 13cm -> LM", "omega": 31.5, "coh": 0.384}
      ]},
      "mark": {"type": "line", "color": "black", "strokeWidth": 2.6, "clip": true},
      "encoding": {
        "x": {"field": "omega", "type": "quantitative",
              "scale": {"type": "log", "domain": [0.1288, 31.62], "nice": false},
              "axis": {"title": "Wegkreisfrequenz Ω [rad/m]", "grid": true, "labelPadding": 18, "titlePadding": 10,
                       "titleFontSize": 22,
                       "values": [0.2, 0.3, 0.4, 0.5, 0.6, 0.7, 0.8, 0.9, 1, 2, 3, 4, 5, 6, 7, 8, 9, 10, 20, 30],
                       "labelExpr": "datum.value == 1 ? '10⁰' : (datum.value == 10 ? '10¹' : '')"}},
        "y": {"field": "coh", "type": "quantitative",
              "scale": {"domain": [0, 1], "nice": false, "zero": false},
              "axis": {"title": "Kohärenz [-]", "grid": true, "labelPadding": 9, "titlePadding": 18,
                       "values": [0, 0.2, 0.4, 0.6, 0.8, 1],
                       "labelExpr": "format(datum.value, '~g')"}},
        "strokeDash": {"field": "pair", "type": "nominal",
                       "scale": {"domain": ["LM -> LM + 13cm", "LM - 13cm -> LM + 13cm", "LM - 13cm -> LM"],
                                 "range": [[1, 0], [9, 5], [2.5, 4]]},
                       "legend": {"title": null, "orient": "right", "offset": 23, "padding": 9, "rowPadding": 5,
                                  "strokeColor": "black", "fillColor": "white", "cornerRadius": 0,
                                  "symbolType": "M-1,0H5.8", "symbolSize": 400, "symbolStrokeWidth": 2.5,
                                  "symbolStrokeColor": "black", "symbolFillColor": "transparent",
                                  "labelOffset": 54, "labelFont": "DejaVu Sans", "labelFontSize": 19, "labelFontWeight": "bold",
                                  "labelColor": "black", "labelLimit": 400}}
      }
    },
    {
      "width": 483,
      "height": 50,
      "view": {"stroke": null},
      "data": {"values": [{"lam": 1}]},
      "mark": {"type": "point", "opacity": 0},
      "encoding": {
        "x": {"field": "lam", "type": "quantitative",
              "scale": {"type": "log", "domain": [0.1837, 54.8], "reverse": true, "nice": false},
              "axis": {"title": "Wellenlänge [m]", "titleFontSize": 21.5, "grid": false, "domainWidth": 1.2, "ticks": true,
                       "tickSize": {"condition": {"test": "datum.value == 1 || datum.value == 10", "value": -6}, "value": -4},
                       "tickColor": "black", "tickWidth": 1, "labelPadding": 20, "titlePadding": 9,
                       "values": [50, 40, 30, 20, 10, 9, 8, 7, 6, 5, 4, 3, 2, 1, 0.9, 0.8, 0.7, 0.6, 0.5, 0.4, 0.3, 0.2],
                       "labelExpr": "datum.value == 10 ? '10¹' : (datum.value == 1 ? '10⁰' : '')"}}
      }
    },
    {
      "width": 483,
      "height": 48,
      "view": {"stroke": null},
      "data": {"values": [{"f": 1}]},
      "mark": {"type": "point", "opacity": 0},
      "encoding": {
        "x": {"field": "f", "type": "quantitative",
              "scale": {"type": "log", "domain": [0.179, 54.9], "nice": false},
              "axis": {"title": "Frequenz bei 10 m/s [Hz]", "titleFontSize": 22, "grid": false, "domainWidth": 1.2, "ticks": true,
                       "tickSize": {"condition": {"test": "datum.value == 1 || datum.value == 10", "value": -6}, "value": -4},
                       "tickColor": "black", "tickWidth": 1, "labelPadding": 20, "titlePadding": 9,
                       "values": [0.2, 0.3, 0.4, 0.5, 0.6, 0.7, 0.8, 0.9, 1, 2, 3, 4, 5, 6, 7, 8, 9, 10, 20, 30, 40, 50],
                       "labelExpr": "datum.value == 1 ? '10⁰' : (datum.value == 10 ? '10¹' : '')"}}
      }
    }
  ]
}
